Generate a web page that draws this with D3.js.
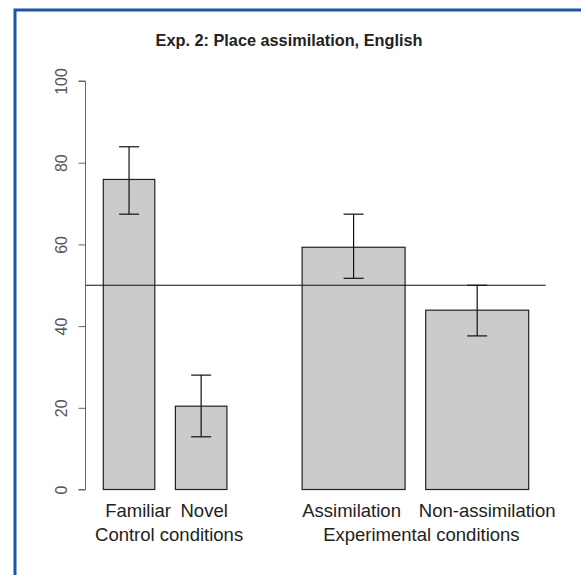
<!DOCTYPE html>
<html>
<head>
<meta charset="utf-8">
<script src="https://cdn.jsdelivr.net/npm/d3@7"></script>
<style>
  body { margin: 0; background: #fff; }
  text { font-family: "Liberation Sans", Arial, sans-serif; }
</style>
</head>
<body>
<script>
// values
var categories = ['Familiar', 'Novel', 'Assimilation', 'Non-assimilation'];
var groups = ['Control conditions', 'Control conditions', 'Experimental conditions', 'Experimental conditions'];
var means = [75.9, 20.4, 59.3, 43.9];
var lower = [67.4, 12.9, 51.7, 37.6];
var upper = [83.9, 28.0, 67.4, 50.0];
var barUnits = [1, 1, 2, 2];
var yTicks = [0, 20, 40, 60, 80, 100];
var chance = 50;

// layout tweaks for the hand placed labels
var catNudge = [9, 3, -2, 10];
var grpNudge = [4, 6];

var W = 581, H = 575;

var svg = d3.select('body').append('svg')
    .attr('width', W)
    .attr('height', H);

// blue frame
svg.append('rect')
    .attr('x', 15).attr('y', 10)
    .attr('width', W).attr('height', H)
    .attr('fill', 'none')
    .attr('stroke', '#1b57a3')
    .attr('stroke-width', 3);

svg.append('text')
    .attr('x', 289).attr('y', 46)
    .attr('text-anchor', 'middle')
    .attr('font-weight', 'bold')
    .attr('font-size', 16.3)
    .attr('fill', '#222')
    .text('Exp. 2: Place assimilation, English');

var y = d3.scaleLinear().domain([0, 100]).range([489.5, 81]);

// bar layout in barplot units (gap 0.4, wider gap between groups)
var starts = [], pos = 0;
categories.forEach(function(c, i) {
  if (i > 0) pos += (groups[i] != groups[i - 1]) ? 1.46 : 0.4;
  starts.push(pos);
  pos += barUnits[i];
});
var x = d3.scaleLinear().domain([0, pos]).range([103.3, 103.3 + pos * 51.5]);

var data = categories.map(function(c, i) {
  return { name: c, group: groups[i], mean: means[i], lo: lower[i], hi: upper[i],
           x0: starts[i], x1: starts[i] + barUnits[i], nudge: catNudge[i] };
});

// y axis, labels turned on their side like R does
var yAxis = d3.axisLeft(y).tickValues(yTicks).tickSize(7);
var ax = svg.append('g')
    .attr('transform', 'translate(85.5,0)')
    .call(yAxis);
ax.select('.domain').attr('stroke', '#666').attr('d', 'M-7,' + y(100) + 'H0V' + y(0) + 'H-7');
ax.selectAll('.tick line').attr('stroke', '#666');
ax.selectAll('.tick text')
    .attr('x', null).attr('y', null)
    .attr('dy', '0.35em')
    .attr('transform', 'translate(-24,0) rotate(-90)')
    .attr('text-anchor', 'middle')
    .attr('font-size', 16)
    .attr('fill', '#555');

// bars
svg.selectAll('.bar')
    .data(data)
  .enter().append('rect')
    .attr('class', 'bar')
    .attr('x', function(d) { return x(d.x0); })
    .attr('width', function(d) { return x(d.x1) - x(d.x0); })
    .attr('y', function(d) { return y(d.mean); })
    .attr('height', function(d) { return y(0) - y(d.mean); })
    .attr('fill', '#cbcbcb')
    .attr('stroke', '#222')
    .attr('stroke-width', 1.2);

// chance line
svg.append('line')
    .attr('x1', 85.5).attr('x2', 545.7)
    .attr('y1', y(chance)).attr('y2', y(chance))
    .attr('stroke', '#111')
    .attr('stroke-width', 1.2);

// error bars
var eb = svg.selectAll('.err')
    .data(data)
  .enter().append('g')
    .attr('class', 'err')
    .attr('stroke', '#111')
    .attr('stroke-width', 1.2);
eb.append('line')
    .attr('x1', function(d) { return x((d.x0 + d.x1) / 2); })
    .attr('x2', function(d) { return x((d.x0 + d.x1) / 2); })
    .attr('y1', function(d) { return y(d.lo); })
    .attr('y2', function(d) { return y(d.hi); });
['lo', 'hi'].forEach(function(k) {
  eb.append('line')
    .attr('x1', function(d) { return x((d.x0 + d.x1) / 2) - 10; })
    .attr('x2', function(d) { return x((d.x0 + d.x1) / 2) + 10; })
    .attr('y1', function(d) { return y(d[k]); })
    .attr('y2', function(d) { return y(d[k]); });
});

// category labels
svg.selectAll('.cat')
    .data(data)
  .enter().append('text')
    .attr('class', 'cat')
    .attr('x', function(d) { return x((d.x0 + d.x1) / 2) + d.nudge; })
    .attr('y', 516.5)
    .attr('text-anchor', 'middle')
    .attr('font-size', 18.5)
    .attr('fill', '#222')
    .text(function(d) { return d.name; });

// group labels
var groupNames = Array.from(new Set(groups));
svg.selectAll('.grp')
    .data(groupNames)
  .enter().append('text')
    .attr('class', 'grp')
    .attr('x', function(g, i) {
      var ds = data.filter(function(d) { return d.group == g; });
      return (x(ds[0].x0) + x(ds[ds.length - 1].x1)) / 2 + grpNudge[i];
    })
    .attr('y', 541)
    .attr('text-anchor', 'middle')
    .attr('font-size', 18.5)
    .attr('fill', '#222')
    .text(function(g) { return g; });
</script>
</body>
</html>
